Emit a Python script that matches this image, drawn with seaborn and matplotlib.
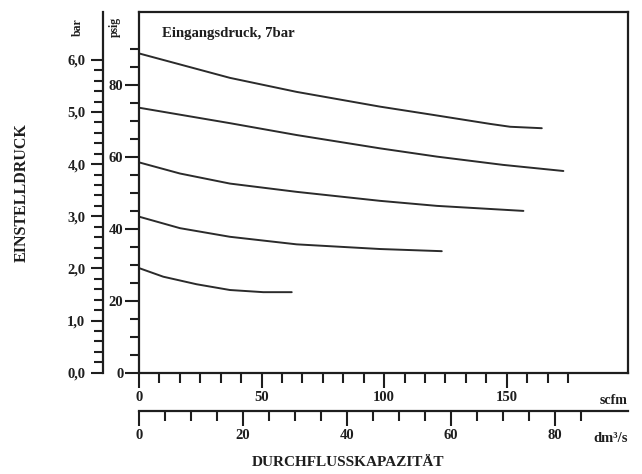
import numpy as np
import pandas as pd
import matplotlib
matplotlib.use("Agg")
import matplotlib.pyplot as plt
import seaborn as sns

# ---- data (x in scfm, y in psig) ----
scfm_1 = [0, 37.1, 64.3, 98.3, 120.0, 143.2, 151.4, 164.3]
psig_1 = [88.8, 82.0, 78.1, 74.0, 71.7, 69.2, 68.4, 68.0]
scfm_2 = [0, 37.1, 64.3, 98.3, 121.5, 148.5, 173.1]
psig_2 = [73.7, 69.4, 66.1, 62.4, 60.1, 57.8, 56.1]
scfm_3 = [0, 16.7, 37.1, 64.3, 98.3, 121.5, 156.8]
psig_3 = [58.5, 55.4, 52.6, 50.3, 47.8, 46.4, 45.0]
scfm_4 = [0, 16.7, 37.1, 64.3, 98.3, 123.5]
psig_4 = [43.4, 40.2, 37.8, 35.7, 34.4, 33.8]
scfm_5 = [0, 9.9, 23.5, 37.1, 50.7, 62.3]
psig_5 = [29.1, 26.7, 24.6, 23.0, 22.4, 22.4]

scfm_ticks = [0, 50, 100, 150]
psig_ticks = [0, 20, 40, 60, 80]
bar_ticks = [0, 1, 2, 3, 4, 5, 6]
bar_labels = ["0,0", "1,0", "2,0", "3,0", "4,0", "5,0", "6,0"]
dm_ticks = [0, 20, 40, 60, 80]

title_text = "Eingangsdruck, 7bar"
ylabel_text = "EINSTELLDRUCK"
xlabel_text = "DURCHFLUSSKAPAZITÄT"

PSI_PER_BAR = 14.5038
SCFM_PER_DM3S = 2.11888

sns.set_theme(style="ticks")
plt.rcParams["font.family"] = ["Liberation Serif", "DejaVu Serif"]
plt.rcParams["font.weight"] = "bold"

ink = "#1e1e1e"
curves = []
for i, (xs, ys) in enumerate([(scfm_1, psig_1), (scfm_2, psig_2), (scfm_3, psig_3),
                              (scfm_4, psig_4), (scfm_5, psig_5)]):
    curves.append(pd.DataFrame({"scfm": xs, "psig": ys, "curve": f"c{i}"}))
df = pd.concat(curves, ignore_index=True)

fig = plt.figure(figsize=(6.42, 4.74), dpi=100)
ax = fig.add_axes([0.2165, 0.2137, 0.7622, 0.7616])

sns.lineplot(data=df, x="scfm", y="psig", hue="curve", palette=["#2b2b2b"] * 5,
             estimator=None, sort=False, legend=False, linewidth=1.4, ax=ax)
for ln in ax.get_lines():
    ln.set_solid_joinstyle("round")
    ln.set_solid_capstyle("round")

xmax, ymax = 199.6, 100.4
ax.set_xlim(0, xmax)
ax.set_ylim(0, ymax)
ax.set_xlabel("")
ax.set_ylabel("")
for s in ax.spines.values():
    s.set_linewidth(1.6)
    s.set_color(ink)

TL = 10.5
ax.set_xticks(scfm_ticks)
ax.set_xticks([k * 50 / 6 for k in range(1, 22) if k % 6], minor=True)
ax.set_xticklabels([str(t) for t in scfm_ticks])
ax.set_yticks(psig_ticks)
ax.set_yticks([v for v in range(5, 95, 5) if v % 20], minor=True)
ax.set_yticklabels([str(t) for t in psig_ticks])
ax.tick_params(which="major", direction="out", length=11, width=1.5, color=ink,
               labelsize=TL, labelcolor=ink, pad=2)
ax.tick_params(which="minor", direction="out", length=7.5, width=1.5, color=ink)
ax.tick_params(axis="y", which="major", length=10, pad=1.2)
ax.tick_params(axis="y", which="minor", length=6.5)

# bar axis
axb = ax.twinx()
axb.set_ylim(0, ymax / PSI_PER_BAR)
axb.yaxis.tick_left()
for k in ["top", "right", "bottom"]:
    axb.spines[k].set_visible(False)
axb.spines["left"].set_position(("outward", 26.1))
axb.spines["left"].set_linewidth(1.6)
axb.spines["left"].set_color(ink)
axb.set_yticks(bar_ticks)
axb.set_yticklabels(bar_labels)
axb.set_yticks([v / 5 for v in range(1, 31) if v % 5], minor=True)
axb.tick_params(which="major", direction="out", length=9, width=1.5, color=ink,
                labelsize=TL, labelcolor=ink, pad=3.5)
axb.tick_params(which="minor", direction="out", length=6.5, width=1.5, color=ink)

# dm3/s axis
axd = ax.twiny()
axd.set_xlim(0, xmax / SCFM_PER_DM3S)
axd.xaxis.tick_bottom()
for k in ["top", "right", "left"]:
    axd.spines[k].set_visible(False)
axd.spines["bottom"].set_position(("outward", 27.6))
axd.spines["bottom"].set_linewidth(1.6)
axd.spines["bottom"].set_color(ink)
axd.set_xticks(dm_ticks)
axd.set_xticklabels([str(t) for t in dm_ticks])
axd.set_xticks([v for v in range(5, 90, 5) if v % 20], minor=True)
axd.tick_params(which="major", direction="out", length=11, width=1.5, color=ink,
                labelsize=TL, labelcolor=ink, pad=2)
axd.tick_params(which="minor", direction="out", length=7.5, width=1.5, color=ink)

# texts
ax.text(0.048, 0.94, title_text, transform=ax.transAxes, fontsize=10.6,
        fontweight="bold", color=ink, ha="left", va="center")
fig.text(628 / 642, 1 - 400 / 474, "scfm", fontsize=10, fontweight="bold",
         color=ink, ha="right", va="center")
fig.text(628 / 642, 1 - 438 / 474, "dm³/s", fontsize=10.5, fontweight="bold",
         color=ink, ha="right", va="center")
fig.text(78 / 642, 1 - 27 / 474, "bar", fontsize=8.5, fontweight="bold",
         color=ink, ha="center", va="center", rotation=90)
fig.text(115 / 642, 1 - 27 / 474, "psig", fontsize=8.5, fontweight="bold",
         color=ink, ha="center", va="center", rotation=90)
fig.text(22 / 642, 1 - 193 / 474, ylabel_text, fontsize=11.5, fontweight="bold",
         color=ink, ha="center", va="center", rotation=90)
fig.text(348 / 642, 1 - 462 / 474, xlabel_text, fontsize=11, fontweight="bold",
         color=ink, ha="center", va="center")

fig.savefig("out.png", dpi=100, facecolor="white")
